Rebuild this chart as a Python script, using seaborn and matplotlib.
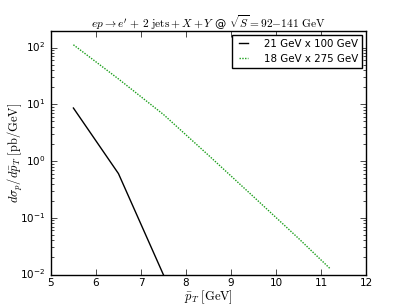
import pandas as pd
import matplotlib
matplotlib.use("Agg")
import matplotlib.pyplot as plt
import seaborn as sns

# 21 GeV x 100 GeV
pt_low = [5.5, 6.5, 7.5]
xs_low = [8.6, 0.6, 0.0098]

# 18 GeV x 275 GeV
pt_high = [5.5, 6.5, 7.5, 8.5, 9.5, 10.5, 11.2]
xs_high = [112, 28, 6.6, 1.26, 0.234, 0.043, 0.0126]

labels = ["21 GeV x 100 GeV", "18 GeV x 275 GeV"]


def main():
    plt.style.use("classic")
    plt.rcParams["font.size"] = 8
    plt.rcParams["mathtext.fontset"] = "cm"

    data = pd.concat([
        pd.DataFrame({"pt": pt_low, "xs": xs_low, "beam": labels[0]}),
        pd.DataFrame({"pt": pt_high, "xs": xs_high, "beam": labels[1]}),
    ])

    fig, ax = plt.subplots(figsize=(4.07, 3.05), dpi=100)
    fig.patch.set_facecolor("white")
    sns.lineplot(data=data, x="pt", y="xs", hue="beam", style="beam",
                 palette=["k", "#1a9e1a"], dashes=["", (1, 1)], lw=1, ax=ax)
    ax.set_yscale("log")
    ax.set_xlim(5, 12)
    ax.set_ylim(1e-2, 2e2)

    ax.set_title(r"$ep\rightarrow e^{\prime}\,+\,2\ \mathrm{jets}+X+Y$ @ "
                 r"$\sqrt{S}=92{-}141\ \mathrm{GeV}$", fontsize=8.2, pad=2)
    ax.tick_params(labelsize=7.5)
    ax.tick_params(axis="x", pad=2.5)
    ax.set_xlabel(r"$\bar{p}_T\ [\mathrm{GeV}]$", fontsize=9, labelpad=0)
    ax.set_ylabel(r"$d\sigma_p/d\bar{p}_T\ [\mathrm{pb/GeV}]$", fontsize=9,
                  labelpad=-3.5)

    handles, labs = ax.get_legend_handles_labels()
    ax.legend(handles, labs, loc="upper right", fontsize=7.4, title=None,
              handlelength=1.5, handletextpad=1.2, borderaxespad=0.4)

    fig.subplots_adjust(left=0.125, right=0.9, bottom=0.1, top=0.9)
    fig.savefig("out.png", dpi=100, facecolor="white")


if __name__ == "__main__":
    main()
